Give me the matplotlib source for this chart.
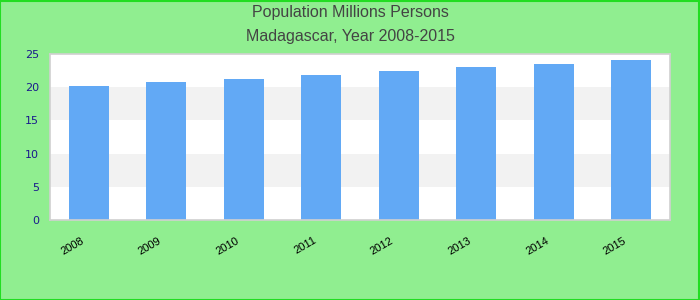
import numpy as np
import matplotlib.pyplot as plt
from matplotlib.patches import Rectangle
from matplotlib.transforms import ScaledTranslation

years = ['2008', '2009', '2010', '2011', '2012', '2013', '2014', '2015']
population = [20.2, 20.8, 21.2, 21.8, 22.4, 23.0, 23.5, 24.1]

fig = plt.figure(figsize=(7, 3), dpi=100, facecolor='#90ee90')
fig.patches.append(Rectangle((0.0005, 0.001), 0.998, 0.996, transform=fig.transFigure,
                             fill=False, edgecolor='#22dd22', linewidth=1.5))

ax = fig.add_axes([50 / 700, 80 / 300, 620 / 700, 166 / 300])
ax.set_facecolor('white')

# alternating bands
for lo, hi in [(5, 10), (15, 20)]:
    ax.axhspan(lo, hi, color='#f2f2f2', zorder=0, linewidth=0)

x = np.arange(len(years))
ax.bar(x, population, width=0.52, color='#62a9f5', zorder=2)

ax.set_xlim(-0.5, len(years) - 0.5)
ax.set_ylim(0, 25)
ax.set_yticks([0, 5, 10, 15, 20, 25])
ax.tick_params(axis='y', length=0, labelsize=8, labelcolor='#1a1a8c', pad=8)
ax.set_xticks(x)
ax.set_xticklabels(years, rotation=30, fontsize=8, fontfamily='Liberation Sans', ha='right')
ax.tick_params(axis='x', length=0, pad=11)
shift = ScaledTranslation(-6 / 72, 0, fig.dpi_scale_trans)
for lab in ax.get_xticklabels():
    lab.set_rotation_mode('anchor')
    lab.set_transform(lab.get_transform() + shift)

for s in ax.spines.values():
    s.set_color('#d0d0d0')
    s.set_linewidth(1.2)

fig.text(0.5, 1 - 13 / 300, 'Population Millions Persons', ha='center', va='center',
         fontsize=11.5, color='#444444', fontfamily='Liberation Sans')
fig.text(0.5, 1 - 36 / 300, 'Madagascar, Year 2008-2015', ha='center', va='center',
         fontsize=11.5, color='#444444', fontfamily='Liberation Sans')

fig.savefig('out.png', dpi=100, facecolor=fig.get_facecolor())
